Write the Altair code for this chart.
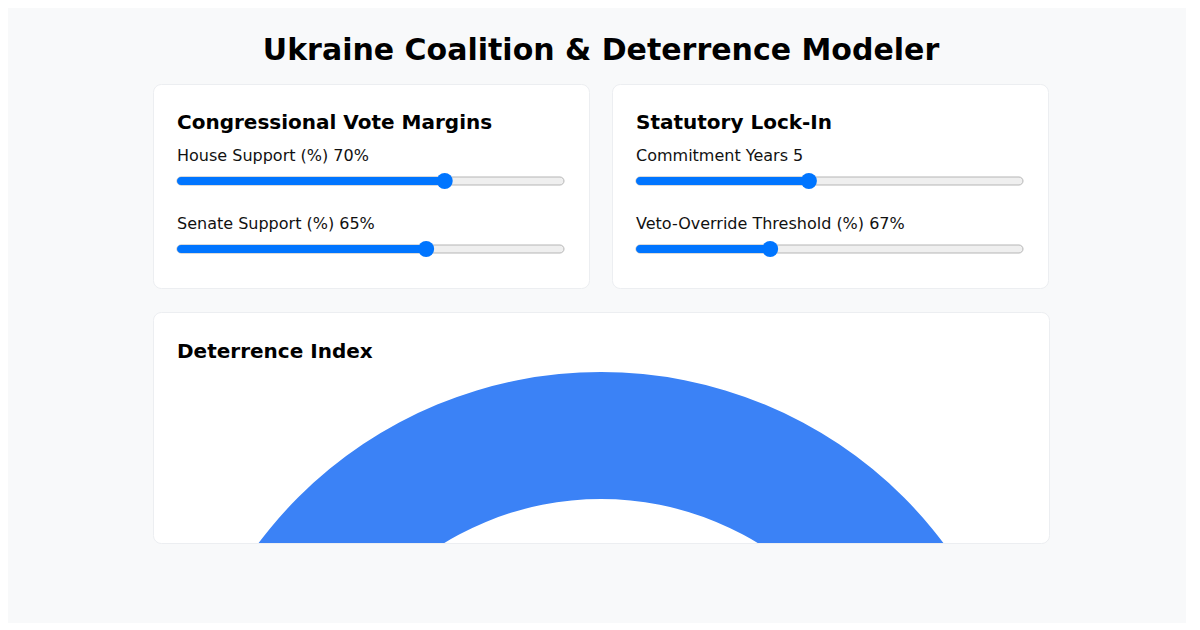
import altair as alt
import pandas as pd

# 슬라이더 값
slider_cards = ["Congressional Vote Margins", "Congressional Vote Margins",
                "Statutory Lock-In", "Statutory Lock-In"]
slider_labels = ["House Support (%)", "Senate Support (%)",
                 "Commitment Years", "Veto-Override Threshold (%)"]
slider_values = [70, 65, 5, 67]
slider_min = [0, 0, 1, 50]
slider_max = [100, 100, 10, 100]
slider_suffix = ["%", "%", "", "%"]
slider_row = [0, 1, 0, 1]

# 억지력 지수 (도넛)
gauge_labels = ["Deterrence Index"]
gauge_values = [100]

BLUE = "#0075ff"
CARD_W, CARD_H = 436, 204
TRACK_W, THUMB = 387, 16
# 썸 반지름만큼 트랙 양 끝을 도메인 밖으로 뺌
PAD = THUMB / 2 / (TRACK_W - THUMB)

sliders = pd.DataFrame({
    "card": slider_cards,
    "label": slider_labels,
    "value": slider_values,
    "vmin": slider_min,
    "vmax": slider_max,
    "suffix": slider_suffix,
    "row": slider_row,
})


def slider_card(name):
    df = sliders[sliders["card"] == name]
    base = alt.Chart(df).transform_calculate(
        frac="(datum.value - datum.vmin) / (datum.vmax - datum.vmin)",
        text="datum.label + ' ' + datum.value + datum.suffix",
    )
    yscale = alt.Scale(domain=[0, 1], range=[97, 165], padding=0)
    xscale = alt.Scale(domain=[-PAD, 1 + PAD], range=[24, 24 + TRACK_W], padding=0)
    y = alt.Y("row:Q", scale=yscale, axis=None)
    x = alt.X("frac:Q", scale=xscale, axis=None)

    track = base.mark_bar(height=8, cornerRadius=4, color="#efefef",
                          stroke="#b5b5b5", strokeWidth=1).encode(
        x=alt.X(datum=-PAD, scale=xscale, axis=None), x2=alt.datum(1 + PAD), y=y)
    fill = base.mark_bar(height=8, cornerRadius=4, color=BLUE).encode(
        x=x, x2=alt.datum(-PAD), y=y)
    thumb = base.mark_circle(size=THUMB * THUMB, opacity=1, color=BLUE).encode(x=x, y=y)
    label = base.mark_text(align="left", baseline="alphabetic", fontSize=16,
                           dy=-20, color="#111").encode(
        x=alt.value(24), y=y, text="text:N")
    title = alt.Chart(pd.DataFrame({"t": [name]})).mark_text(
        align="left", baseline="alphabetic", fontSize=20, fontWeight="bold",
        color="#000").encode(x=alt.value(24), y=alt.value(45), text="t:N")

    return alt.layer(track, fill, thumb, label, title).properties(
        width=CARD_W, height=CARD_H)


card1 = slider_card("Congressional Vote Margins")
card2 = slider_card("Statutory Lock-In")

gauge = pd.DataFrame({"label": gauge_labels, "value": gauge_values})
donut = alt.Chart(gauge).mark_arc(innerRadius=301, outerRadius=428,
                                  color="#3b82f6", clip=True).encode(
    theta=alt.Theta("value:Q"),
    x=alt.value(448), y=alt.value(488),
)
donut_title = alt.Chart(pd.DataFrame({"t": ["Deterrence Index"]})).mark_text(
    align="left", baseline="alphabetic", fontSize=20, fontWeight="bold",
    color="#000").encode(x=alt.value(24), y=alt.value(46), text="t:N")
card3 = alt.layer(donut, donut_title).properties(width=896, height=231)

chart = alt.vconcat(
    alt.hconcat(card1, card2, spacing=21),
    card3,
    spacing=22,
).properties(
    title=alt.TitleParams("Ukraine Coalition & Deterrence Modeler",
                          fontSize=30, fontWeight="bold", anchor="middle",
                          color="#000", offset=18),
    padding={"left": 144, "top": 27, "right": 136, "bottom": 79},
    background="#f8f9fa",
).configure(font="DejaVu Sans").configure_view(
    fill="white", cornerRadius=8, stroke="#eceef1", strokeWidth=1
)

chart.save("out.html", embed_options={"renderer": "svg", "actions": False})
